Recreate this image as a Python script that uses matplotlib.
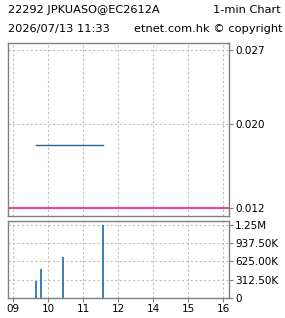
import matplotlib
matplotlib.use("Agg")
import matplotlib.pyplot as plt

# heures de séance (pause de midi retirée : 14h -> 13 etc.)
tick_pos = [9, 10, 11, 12, 13, 14, 15]
tick_labels = ["09", "10", "11", "12", "14", "15", "16"]

# cours (ligne) et volumes par minute
price_t = [9.65, 11.55]
price = [0.018, 0.018]
prev_close = 0.012

vol_t = [9.65, 9.80, 10.43, 11.55]
vol = [290000, 500000, 700000, 1250000]

price_ticks = [0.012, 0.020, 0.027]
price_tick_labels = ["0.012", "0.020", "0.027"]
vol_ticks = [0, 312500, 625000, 937500, 1250000]
vol_tick_labels = ["0", "312.50K", "625.00K", "937.50K", "1.25M"]

fig = plt.figure(figsize=(2.85, 3.18), dpi=100)
ax1 = fig.add_axes([8/285, 1-216/318, 221/285, 173/318])
ax2 = fig.add_axes([8/285, 20/318, 221/285, 77/318])

grid_kw = dict(color="#c0c0c0", linestyle=(0, (2, 2)), linewidth=0.8)
fs = 7.5

for ax in (ax1, ax2):
    for s in ax.spines.values():
        s.set_color("#808080")
        s.set_linewidth(1.0)
    ax.set_xlim(8.85, 15.16)
    ax.set_xticks(tick_pos)
    ax.yaxis.tick_right()
    ax.tick_params(axis="both", colors="#808080", labelcolor="black",
                   length=3, width=0.8, labelsize=fs, pad=1.5)
    ax.grid(True, **grid_kw)
    ax.set_axisbelow(True)

ax1.plot(price_t, price, color="#2b6390", lw=1.0)
ax1.axhline(prev_close, color="#ff1a8c", lw=1.2)
ax1.set_ylim(0.01124, 0.02766)
ax1.set_yticks(price_ticks)
ax1.set_yticklabels(price_tick_labels)
ax1.tick_params(axis="x", labelbottom=False, length=0)

ax2.vlines(vol_t, 0, vol, color="#1a6aa8", lw=1.2)
ax2.set_ylim(0, 1318000)
ax2.set_yticks(vol_ticks)
ax2.set_yticklabels(vol_tick_labels)
ax2.set_xticklabels(tick_labels)

hs = 8.2
fig.text(8/285, 1-10/318, "22292 JPKUASO@EC2612A", fontsize=hs, va="center")
fig.text(281/285, 1-10/318, "1-min Chart", fontsize=hs, va="center", ha="right")
fig.text(8/285, 1-29/318, "2026/07/13 11:33", fontsize=hs, va="center")
fig.text(283/285, 1-29/318, "etnet.com.hk \u00a9 copyright", fontsize=hs, va="center", ha="right")

fig.savefig("out.png", dpi=100)
